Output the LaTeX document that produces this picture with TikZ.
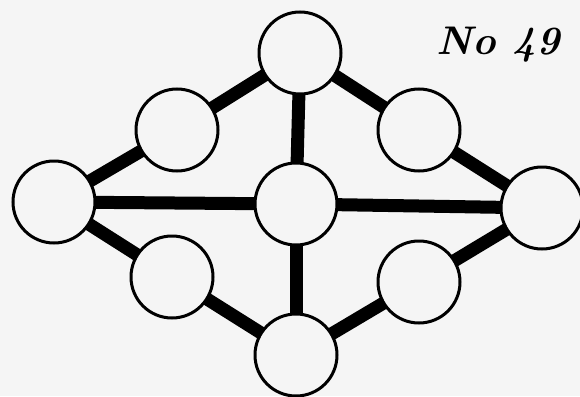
\documentclass[tikz,border=0pt]{standalone}
\begin{document}
\begin{tikzpicture}[x=1pt,y=-1pt,
  bead/.style={circle,draw=black,line width=3pt,fill=white!96!black,minimum size=82pt,inner sep=0pt},
  rod/.style={line width=13pt,black}]
\fill[white!96!black] (0,0) rectangle (580,396);
\useasboundingbox (0,0) rectangle (580,396);
\coordinate (T) at (300,53);
\coordinate (UL) at (177,130);
\coordinate (UR) at (419,130);
\coordinate (L) at (54,202);
\coordinate (C) at (296,204);
\coordinate (R) at (542,208);
\coordinate (LL) at (172,277);
\coordinate (LR) at (419,282);
\coordinate (B) at (296,355);
\draw[rod] (T) -- (UL);
\draw[rod] (T) -- (UR);
\draw[rod] (T) -- (C);
\draw[rod] (UL) -- (L);
\draw[rod] (UR) -- (R);
\draw[rod] (L) -- (C);
\draw[rod] (C) -- (R);
\draw[rod] (L) -- (LL);
\draw[rod] (R) -- (LR);
\draw[rod] (LL) -- (B);
\draw[rod] (LR) -- (B);
\draw[rod] (C) -- (B);
\node[bead] (nT) at (T) {};
\node[bead] (nUL) at (UL) {};
\node[bead] (nUR) at (UR) {};
\node[bead] (nL) at (L) {};
\node[bead] (nC) at (C) {};
\node[bead] (nR) at (R) {};
\node[bead] (nLL) at (LL) {};
\node[bead] (nLR) at (LR) {};
\node[bead] (nB) at (B) {};
\node[font=\fontsize{40}{40}\selectfont\bfseries\itshape] (lbl) at (498,45) {No 49};
\end{tikzpicture}
\end{document}
